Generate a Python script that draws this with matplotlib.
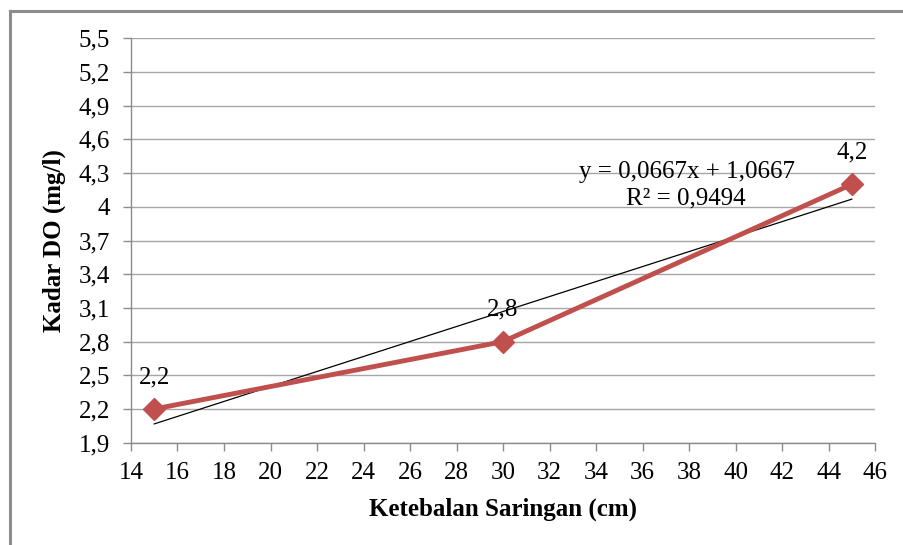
import numpy as np
import matplotlib
matplotlib.use("Agg")
import matplotlib.pyplot as plt
from matplotlib.lines import Line2D

# thickness of the filter layer vs dissolved oxygen
ketebalan = [15, 30, 45]
kadar_do = [2.2, 2.8, 4.2]
label_do = ["2,2", "2,8", "4,2"]

# linear trend reported for the series
slope = 0.0667
intercept = 1.0667
eq_text = "y = 0,0667x + 1,0667"
r2_text = "R² = 0,9494"

x_ticks = list(range(14, 47, 2))
y_ticks = [1.9, 2.2, 2.5, 2.8, 3.1, 3.4, 3.7, 4.0, 4.3, 4.6, 4.9, 5.2, 5.5]
y_tick_labels = ["1,9", "2,2", "2,5", "2,8", "3,1", "3,4", "3,7", "4",
                 "4,3", "4,6", "4,9", "5,2", "5,5"]

plt.rcParams['font.family'] = ['Liberation Serif', 'DejaVu Serif']
FS = 18

fig = plt.figure(figsize=(9.04, 5.45), dpi=100)
ax = fig.add_axes([0.1449, 0.1877, 0.968 - 0.1449, 0.9297 - 0.1877])

# outer chart border (only left and top visible)
fig.add_artist(Line2D([0.0111, 0.0111], [0.0, 0.979], transform=fig.transFigure,
                      color="#8c8c8c", lw=2.2))
fig.add_artist(Line2D([0.0111, 1.0], [0.979, 0.979], transform=fig.transFigure,
                      color="#8c8c8c", lw=2.2))

ax.set_xlim(14, 46)
ax.set_ylim(1.9, 5.5)
ax.set_yticks(y_ticks)
ax.set_yticklabels(y_tick_labels)
ax.set_xticks(x_ticks)
ax.grid(axis="y", color="#a6a6a6", lw=1.0)
ax.set_axisbelow(True)

for side in ["top", "right"]:
    ax.spines[side].set_visible(False)
for side in ["left", "bottom"]:
    ax.spines[side].set_color("#8c8c8c")
    ax.spines[side].set_linewidth(1.0)
ax.tick_params(axis="both", direction="out", length=6, width=1.0,
               color="#8c8c8c", labelsize=FS)
ax.tick_params(axis="y", pad=9)
ax.tick_params(axis="x", pad=8)

# trendline
xt = np.array([ketebalan[0], ketebalan[-1]])
ax.plot(xt, slope * xt + intercept, color="black", lw=0.9, zorder=3)

ax.plot(ketebalan, kadar_do, color="#C0504D", lw=3.5, marker="D",
        markersize=11, zorder=4)

for x, y, lab in zip(ketebalan, kadar_do, label_do):
    ax.annotate(lab, (x, y), xytext=(0, 23), textcoords="offset points",
                ha="center", va="center", fontsize=FS)

ax.text(37.9, 4.31, eq_text, ha="center", va="center", fontsize=FS)
ax.text(37.85, 4.075, r2_text, ha="center", va="center", fontsize=FS)

ax.set_xlabel("Ketebalan Saringan (cm)", fontsize=FS, fontweight="bold",
              labelpad=10)
ax.set_ylabel("Kadar DO (mg/l)", fontsize=FS, fontweight="bold",
              labelpad=9)

fig.savefig("out.png", dpi=100)
